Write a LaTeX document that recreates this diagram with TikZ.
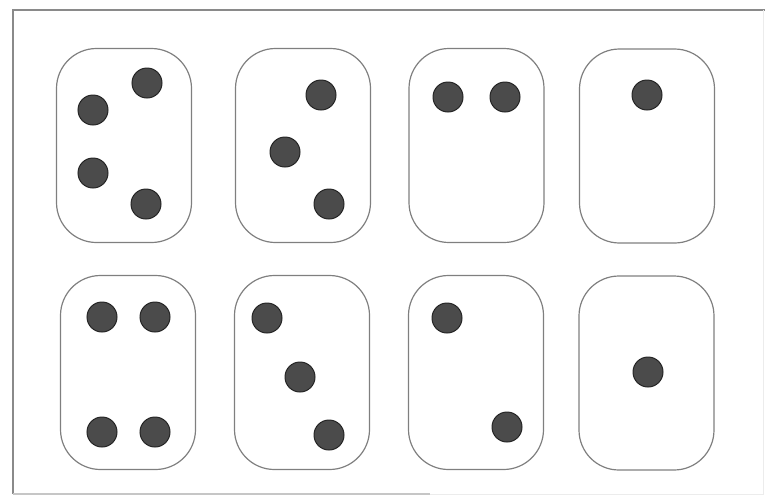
\documentclass[tikz,border=0pt]{standalone}
\definecolor{framegray}{HTML}{8A8A8A}
\definecolor{boxgray}{HTML}{7F7F7F}
\definecolor{dotfill}{HTML}{4B4B4B}
\definecolor{dotrim}{HTML}{252525}
\begin{document}
\begin{tikzpicture}[x=1pt, y=-1pt,
   box/.style={draw=boxgray, line width=1.2pt, rounded corners=40pt,
     minimum width=135pt, minimum height=194pt, inner sep=0pt},
   dot/.style={circle, draw=dotrim, fill=dotfill, line width=1pt,
     minimum size=30pt, inner sep=0pt}]
\useasboundingbox (0,0) rectangle (765,496);
% frame
\draw[framegray, line width=1.5pt] (13,494) -- (13,10) -- (765,10);
\draw[gray!45, line width=1.2pt] (13,494) -- (430,494);
\draw[gray!15, line width=1pt] (430,494) -- (763,494) -- (763,10);
% top row
\node[box] (b1) at (124,145.5) {};
\node[box] (b2) at (303,145.5) {};
\node[box] (b3) at (476.5,145.5) {};
\node[box] (b4) at (647,146) {};
% bottom row
\node[box] (b5) at (128,372.5) {};
\node[box] (b6) at (302,372.5) {};
\node[box] (b7) at (476,372.5) {};
\node[box] (b8) at (646.5,373) {};
% dots, four
\node[dot] (d1a) at (147,83) {};
\node[dot] (d1b) at (93,110) {};
\node[dot] (d1c) at (93,173) {};
\node[dot] (d1d) at (146,204) {};
% three
\node[dot] (d2a) at (321,95) {};
\node[dot] (d2b) at (285,152) {};
\node[dot] (d2c) at (329,204) {};
% two
\node[dot] (d3a) at (448,97) {};
\node[dot] (d3b) at (505,97) {};
% one
\node[dot] (d4a) at (647,95) {};
% four
\node[dot] (d5a) at (102,317) {};
\node[dot] (d5b) at (155,317) {};
\node[dot] (d5c) at (102,432) {};
\node[dot] (d5d) at (155,432) {};
% three
\node[dot] (d6a) at (267,318) {};
\node[dot] (d6b) at (300,377) {};
\node[dot] (d6c) at (329,435) {};
% two
\node[dot] (d7a) at (447,318) {};
\node[dot] (d7b) at (507,427) {};
% one
\node[dot] (d8a) at (648,372) {};
\end{tikzpicture}
\end{document}
